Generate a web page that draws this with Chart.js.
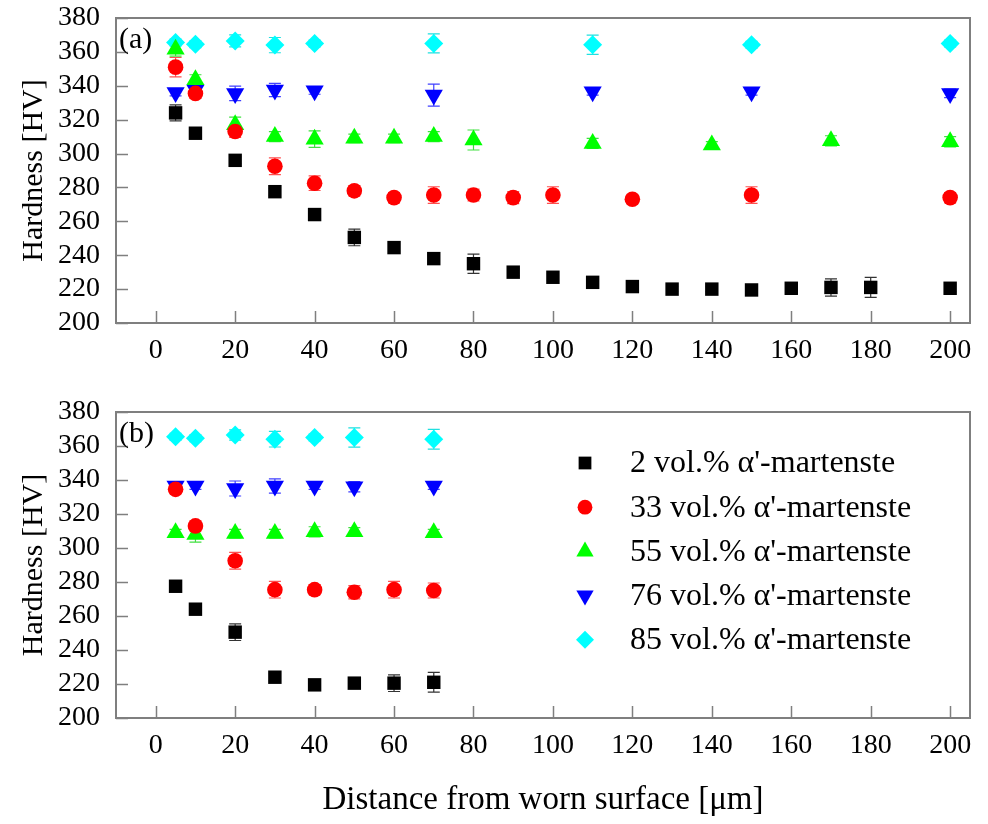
<!DOCTYPE html>
<html>
<head>
<meta charset="utf-8">
<script src="https://cdn.jsdelivr.net/npm/chart.js@4/dist/chart.umd.min.js"></script>
<style>
  body { margin: 0; background: #fff; }
  #wrap { position: relative; width: 988px; height: 824px; }
  canvas { position: absolute; left: 0; }
  #panelA { top: 0; }
  #panelB { top: 390px; }
</style>
</head>
<body>
<div id="wrap">
  <canvas id="panelA" width="988" height="380"></canvas>
  <canvas id="panelB" width="988" height="434"></canvas>
</div>
<script>
// ── Data: panel (a) ─────────────────────────────────────
var xA2  = [5, 10, 20, 30, 40, 50, 60, 70, 80, 90, 100, 110, 120, 130, 140, 150, 160, 170, 180, 200];
var yA2  = [324, 312, 296, 277.5, 264, 250.5, 244.5, 238, 235, 230, 227, 224, 221.5, 220, 220, 219.5, 220.5, 221, 221, 220.5];
var eA2  = [4.7, 2, 2, 2, 2, 4.9, 2, 2, 5.7, 2, 2, 2, 2, 1.5, 1.5, 1.5, 2, 5.1, 5.9, 2];

var xA33 = [5, 10, 20, 30, 40, 50, 60, 70, 80, 90, 100, 120, 150, 200];
var yA33 = [351, 335.5, 313, 292.5, 282.5, 278, 274, 275.5, 275.5, 274, 275.5, 273, 275.5, 274];
var eA33 = [5.7, 3, 3.5, 4.9, 4.3, 3, 3, 4.9, 3.5, 3.5, 4.9, 2.5, 4.9, 3];

var xA55 = [5, 10, 20, 30, 40, 50, 60, 70, 80, 110, 140, 170, 200];
var yA55 = [361.5, 343.5, 317, 310, 308.5, 309, 309, 310, 308, 306, 305, 307.5, 307];
var eA55 = [4, 3, 4.5, 3, 4.9, 2.5, 2.5, 3, 5.9, 3, 2, 3, 3];

var xA76 = [5, 10, 20, 30, 40, 70, 110, 150, 200];
var yA76 = [336, 337.5, 335.5, 337.5, 337, 334.5, 336.5, 336.5, 335.5];
var eA76 = [2, 3, 4.3, 3.9, 2, 6.5, 2, 2, 2.5];

var xA85 = [5, 10, 20, 30, 40, 70, 110, 150, 200];
var yA85 = [365.5, 364.5, 366.5, 364, 365, 365, 364.2, 364.2, 365];
var eA85 = [2, 2, 3.5, 4.5, 2, 5.6, 5.7, 2, 2];

// ── Data: panel (b) ─────────────────────────────────────
var xB2  = [5, 10, 20, 30, 40, 50, 60, 70];
var yB2  = [277.5, 264, 250.5, 224, 219.5, 220.5, 220.5, 221];
var eB2  = [2, 2, 4.9, 2, 2, 2.5, 4.9, 5.8];

var xB33 = [5, 10, 20, 30, 40, 50, 60, 70];
var yB33 = [334.5, 313, 292.5, 275.5, 275.5, 274, 275.5, 275];
var eB33 = [2.5, 3, 4.9, 4.9, 3, 3.9, 4.9, 4.4];

var xB55 = [5, 10, 20, 30, 40, 50, 70];
var yB55 = [309, 308, 308.5, 308.5, 309.5, 309.5, 309];
var eB55 = [2, 4.6, 2.5, 2.5, 3, 2.5, 2];

var xB76 = [5, 10, 20, 30, 40, 50, 70];
var yB76 = [336.5, 336.5, 335, 336.5, 336.5, 336, 336.5];
var eB76 = [2, 2, 4.4, 4.2, 2, 3, 2];

var xB85 = [5, 10, 20, 30, 40, 50, 70];
var yB85 = [365.5, 364.5, 366.5, 364, 365, 365, 364];
var eB85 = [2, 2, 3, 4.6, 2, 5.7, 5.8];

// ── Axes and series labels ──────────────────────────────
var xTicks = [0, 20, 40, 60, 80, 100, 120, 140, 160, 180, 200];
var yTicks = [200, 220, 240, 260, 280, 300, 320, 340, 360, 380];
var seriesLabels = [
  "2 vol.% \u03b1'-martenste",
  "33 vol.% \u03b1'-martenste",
  "55 vol.% \u03b1'-martenste",
  "76 vol.% \u03b1'-martenste",
  "85 vol.% \u03b1'-martenste"
];

var FONT = "'Liberation Serif', 'Times New Roman', serif";
var FRAME = '#7f7f7f';

var styles = [
  { color: '#000000', bar: '#333333', point: 'rect',     radius: 9.5, rotation: 0 },
  { color: '#ff0000', bar: '#ff5050', point: 'circle',   radius: 7.8, rotation: 0 },
  { color: '#00ff00', bar: '#40e040', point: 'triangle', radius: 10.5, rotation: 0 },
  { color: '#0000ff', bar: '#4040ff', point: 'triangle', radius: 10.5, rotation: 180 },
  { color: '#00ffff', bar: '#20e0e0', point: 'rectRot',  radius: 9.5, rotation: 0 }
];

function pts(xs, ys) {
  return xs.map(function (x, i) { return { x: x, y: ys[i] }; });
}

function buildSets(groups) {
  return groups.map(function (g, i) {
    var s = styles[i];
    return {
      label: seriesLabels[i],
      data: pts(g[0], g[1]),
      errors: g[2],
      barColor: s.bar,
      showLine: false,
      pointStyle: s.point,
      pointRotation: s.rotation,
      pointRadius: s.radius,
      pointHoverRadius: s.radius,
      pointBackgroundColor: s.color,
      pointBorderColor: s.color,
      pointBorderWidth: 0
    };
  });
}

// ── Error bars (drawn through the scales) ───────────────
var errorBars = {
  id: 'errorBars',
  beforeDatasetsDraw: function (chart) {
    var ctx = chart.ctx, xs = chart.scales.x, ys = chart.scales.y;
    ctx.save();
    ctx.lineWidth = 1.2;
    chart.data.datasets.forEach(function (ds) {
      ctx.strokeStyle = ds.barColor;
      ds.data.forEach(function (p, i) {
        var e = ds.errors[i];
        var px = xs.getPixelForValue(p.x);
        var y1 = ys.getPixelForValue(p.y + e);
        var y2 = ys.getPixelForValue(p.y - e);
        ctx.beginPath();
        ctx.moveTo(px, y1); ctx.lineTo(px, y2);
        ctx.moveTo(px - 6, y1); ctx.lineTo(px + 6, y1);
        ctx.moveTo(px - 6, y2); ctx.lineTo(px + 6, y2);
        ctx.stroke();
      });
    });
    ctx.restore();
  }
};

// ── Frame, inward ticks and panel tag ───────────────────
var frame = {
  id: 'frame',
  afterDraw: function (chart) {
    var ctx = chart.ctx;
    var xs = chart.scales.x, ys = chart.scales.y;
    var L = xs.left, R = xs.right, T = ys.top, B = ys.bottom;
    ctx.save();
    ctx.strokeStyle = FRAME;
    ctx.lineWidth = 2;
    ctx.strokeRect(L, T, R - L, B - T);
    ctx.lineWidth = 1.5;
    ctx.beginPath();
    xs.ticks.forEach(function (t) {
      var px = Math.round(xs.getPixelForValue(t.value)) + 0.5;
      ctx.moveTo(px, B); ctx.lineTo(px, B - 12);
    });
    ys.ticks.forEach(function (t) {
      var py = Math.round(ys.getPixelForValue(t.value)) + 0.5;
      ctx.moveTo(L, py); ctx.lineTo(L + 12, py);
    });
    ctx.stroke();
    ctx.fillStyle = '#000';
    ctx.font = '30px ' + FONT;
    ctx.textBaseline = 'middle';
    ctx.fillText(chart.options.panelTag, L + 3, T + 22);
    ctx.restore();
  }
};

// ── Legend inside panel (b) ─────────────────────────────
function drawMarker(ctx, style, x, y, r) {
  ctx.fillStyle = style.color;
  ctx.beginPath();
  if (style.point === 'rect') {
    var h = r * Math.SQRT1_2;
    ctx.rect(x - h, y - h, 2 * h, 2 * h);
  } else if (style.point === 'circle') {
    ctx.arc(x, y, r, 0, Math.PI * 2);
  } else if (style.point === 'triangle') {
    var d = style.rotation ? -1 : 1;
    var w = r * Math.sin(Math.PI / 3);
    ctx.moveTo(x, y - d * r);
    ctx.lineTo(x + w, y + d * r / 2);
    ctx.lineTo(x - w, y + d * r / 2);
    ctx.closePath();
  } else {
    ctx.moveTo(x, y - r); ctx.lineTo(x + r, y);
    ctx.lineTo(x, y + r); ctx.lineTo(x - r, y);
    ctx.closePath();
  }
  ctx.fill();
}

var insideLegend = {
  id: 'insideLegend',
  afterDraw: function (chart) {
    if (!chart.options.showInsideLegend) return;
    var ctx = chart.ctx;
    ctx.save();
    ctx.font = '32px ' + FONT;
    ctx.textBaseline = 'middle';
    seriesLabels.forEach(function (lab, i) {
      var y = 73 + i * 44.2;
      drawMarker(ctx, styles[i], 585, y, styles[i].radius * 0.95);
      ctx.fillStyle = '#000';
      ctx.fillText(lab, 630, y + 1);
    });
    ctx.restore();
  }
};

function makeChart(id, datasets, cfg) {
  return new Chart(document.getElementById(id), {
    type: 'scatter',
    data: { datasets: datasets },
    plugins: [errorBars, frame, insideLegend],
    options: {
      responsive: false,
      animation: false,
      panelTag: cfg.tag,
      showInsideLegend: cfg.legend,
      layout: { padding: { top: cfg.top, right: 18, left: 0, bottom: 0 } },
      plugins: { legend: { display: false }, tooltip: { enabled: false } },
      scales: {
        x: {
          type: 'linear', min: -10, max: 205,
          afterBuildTicks: function (s) { s.ticks = xTicks.map(function (v) { return { value: v }; }); },
          afterFit: function (s) {
            s.height = cfg.xHeight;
            s.paddingLeft = 0; s.paddingRight = 0;
          },
          grid: { display: false, drawTicks: false },
          border: { display: false },
          ticks: { autoSkip: false, padding: 11, color: '#000', font: { family: FONT, size: 28 }, maxRotation: 0 },
          title: {
            display: cfg.xTitle,
            text: 'Distance from worn surface [\u03bcm]',
            color: '#000',
            font: { family: FONT, size: 33 },
            padding: { top: 0, bottom: 4 }
          }
        },
        y: {
          type: 'linear', min: 200, max: 380,
          afterBuildTicks: function (s) { s.ticks = yTicks.map(function (v) { return { value: v }; }); },
          afterFit: function (s) {
            s.width = 116;
            s.paddingTop = 0; s.paddingBottom = 0;
          },
          grid: { display: false, drawTicks: false },
          border: { display: false },
          ticks: { autoSkip: false, padding: 16, color: '#000', font: { family: FONT, size: 28 } },
          title: {
            display: true,
            text: 'Hardness [HV]',
            color: '#000',
            font: { family: FONT, size: 30 },
            padding: { top: 16, bottom: 0 }
          }
        }
      }
    }
  });
}

makeChart('panelA', buildSets([
  [xA2, yA2, eA2], [xA33, yA33, eA33], [xA55, yA55, eA55], [xA76, yA76, eA76], [xA85, yA85, eA85]
]), { tag: '(a)', legend: false, top: 18, xHeight: 57, xTitle: false });

makeChart('panelB', buildSets([
  [xB2, yB2, eB2], [xB33, yB33, eB33], [xB55, yB55, eB55], [xB76, yB76, eB76], [xB85, yB85, eB85]
]), { tag: '(b)', legend: true, top: 22, xHeight: 106, xTitle: true });
</script>
</body>
</html>
